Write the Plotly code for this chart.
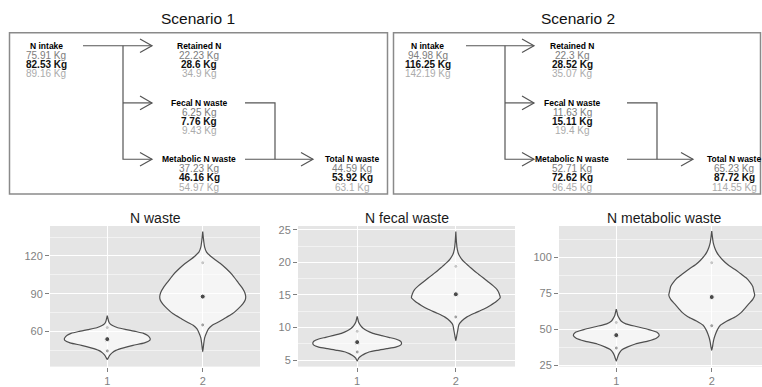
import plotly.graph_objects as go

# ---------------- data ----------------
scenarios = ["Scenario 1", "Scenario 2"]
nodes = ["N intake", "Retained N", "Fecal N waste", "Metabolic N waste", "Total N waste"]
s1_low = [75.91, 22.23, 6.25, 37.23, 44.59]
s1_mean = [82.53, 28.6, 7.76, 46.16, 53.92]
s1_high = [89.16, 34.9, 9.43, 54.97, 63.1]
s2_low = [94.98, 22.3, 11.63, 52.71, 65.23]
s2_mean = [116.25, 28.52, 15.11, 72.62, 87.72]
s2_high = [142.19, 35.07, 19.4, 96.45, 114.55]

panel_titles = ["N waste", "N fecal waste", "N metabolic waste"]
panel_nodes = [4, 2, 3]          # which node each violin panel shows
categories = [1, 2]
cat_labels = ["1", "2"]

# violin outlines: value levels and half-widths
nwaste_s1_y = [37.8, 39, 41, 43, 45, 47, 49, 51, 53, 54, 55, 57, 58.5, 60, 61.5, 63, 64.5, 66, 68, 70, 72.6]
nwaste_s1_w = [0, 0.01, 0.025, 0.05, 0.09, 0.17, 0.27, 0.39, 0.445, 0.45, 0.445, 0.42, 0.38, 0.3, 0.2, 0.11, 0.06, 0.03, 0.015, 0.008, 0]
nwaste_s2_y = [44, 50, 55, 59, 62, 65, 67, 70, 74, 78, 82, 85, 88, 91, 95, 100, 105, 110, 114, 117, 120, 123, 127, 132, 139.4]
nwaste_s2_w = [0, 0.01, 0.02, 0.04, 0.06, 0.1, 0.15, 0.22, 0.31, 0.37, 0.42, 0.445, 0.45, 0.44, 0.41, 0.36, 0.31, 0.245, 0.185, 0.13, 0.08, 0.04, 0.02, 0.01, 0]
fecal_s1_y = [4.85, 5.3, 5.75, 6.0, 6.25, 6.5, 6.75, 7.0, 7.3, 7.6, 7.9, 8.25, 8.5, 8.75, 9.1, 9.5, 9.9, 10.3, 10.8, 11.2, 11.7]
fecal_s1_w = [0, 0.015, 0.05, 0.08, 0.12, 0.2, 0.3, 0.39, 0.44, 0.45, 0.44, 0.39, 0.32, 0.25, 0.16, 0.1, 0.06, 0.035, 0.015, 0.008, 0]
fecal_s2_y = [8.0, 8.8, 9.6, 10.4, 11.0, 11.6, 12.2, 12.8, 13.4, 14.0, 14.6, 15.2, 15.8, 16.4, 17.0, 17.6, 18.2, 18.8, 19.4, 20.0, 20.6, 21.2, 22.0, 23.0, 24.75]
fecal_s2_w = [0, 0.01, 0.02, 0.03, 0.06, 0.11, 0.19, 0.28, 0.35, 0.41, 0.45, 0.44, 0.42, 0.38, 0.33, 0.28, 0.23, 0.18, 0.135, 0.09, 0.055, 0.03, 0.015, 0.007, 0]
metab_s1_y = [28.1, 30, 32, 34, 36, 38, 40, 42, 44, 46, 48, 50, 52, 54, 56, 58, 60, 62, 64.3]
metab_s1_w = [0, 0.01, 0.02, 0.035, 0.06, 0.12, 0.2, 0.33, 0.42, 0.45, 0.43, 0.34, 0.22, 0.1, 0.05, 0.03, 0.015, 0.008, 0]
metab_s2_y = [35.6, 38, 41, 44, 47, 50, 53, 56, 59, 62, 65, 68, 71, 74, 77, 80, 83, 86, 89, 92, 95, 98, 101, 104, 107, 110, 114, 118.5]
metab_s2_w = [0, 0.008, 0.015, 0.025, 0.04, 0.06, 0.09, 0.16, 0.25, 0.31, 0.35, 0.39, 0.43, 0.45, 0.44, 0.43, 0.4, 0.36, 0.3, 0.24, 0.17, 0.12, 0.08, 0.05, 0.03, 0.017, 0.008, 0]

violin_y = [[nwaste_s1_y, nwaste_s2_y], [fecal_s1_y, fecal_s2_y], [metab_s1_y, metab_s2_y]]
violin_w = [[nwaste_s1_w, nwaste_s2_w], [fecal_s1_w, fecal_s2_w], [metab_s1_w, metab_s2_w]]

lows = [s1_low, s2_low]
means = [s1_mean, s2_mean]
highs = [s1_high, s2_high]

# ---------------- layout helpers ----------------
W, H = 762, 387
FONT = "Liberation Sans, Arial, sans-serif"


def px(x):
    return x / W


def py(y):
    return 1 - y / H


shapes = []
annotations = []


def path(points, color="#555555", width=1.2):
    d = "M " + " L ".join(f"{px(x):.5f},{py(y):.5f}" for x, y in points)
    shapes.append(dict(type="path", path=d, xref="paper", yref="paper",
                       line=dict(color=color, width=width), layer="above"))


def chevron(tip_x, y):
    path([(tip_x - 12, y - 7), (tip_x, y), (tip_x - 12, y + 7)])


def text(x, y, s, size, color, bold=False):
    annotations.append(dict(x=px(x), y=py(y), xref="paper", yref="paper",
                            text=f"<b>{s}</b>" if bold else s, showarrow=False,
                            xanchor="center", yanchor="middle", borderpad=0,
                            font=dict(family=FONT, size=size, color=color)))


# diagram geometry (pixels), per scenario
box_x = [(9.5, 387.5), (393.5, 760.5)]
box_y = (31.5, 196.5)
title_cx = [198, 578]
col_intake = [46, 427.5]
col_mid = [199, 572]
col_total = [352, 734]
line_start = [83, 466]
branch_x = [123, 505]
tip1 = [152, 534]
out_start = [245, 627]
elbow_x = [275, 657]
tip2 = [313, 693]
row_y = [44.8, 103.3, 161.0]
line_off = [0, 9.6, 19.0, 28.5]

for s in range(2):
    x0, x1 = box_x[s]
    shapes.append(dict(type="rect", xref="paper", yref="paper",
                       x0=px(x0), x1=px(x1), y0=py(box_y[1]), y1=py(box_y[0]),
                       line=dict(color="#8a8a8a", width=1.5)))
    text(title_cx[s], 17, scenarios[s], 15.5, "#111111")
    pos = [(col_intake[s], row_y[0]), (col_mid[s], row_y[0]), (col_mid[s], row_y[1]),
           (col_mid[s], row_y[2]), (col_total[s], row_y[2])]
    for i, (cx, cy) in enumerate(pos):
        text(cx, cy + line_off[0], nodes[i], 8.5, "#000000", bold=True)
        text(cx, cy + line_off[1], f"{lows[s][i]:g} Kg", 10, "#7c7c7c")
        text(cx, cy + line_off[2], f"{means[s][i]:g} Kg", 10, "#111111", bold=True)
        text(cx, cy + line_off[3], f"{highs[s][i]:g} Kg", 10, "#ababab")
    r0, r1, r2 = row_y
    path([(line_start[s], r0), (tip1[s], r0)])
    chevron(tip1[s], r0)
    path([(branch_x[s], r0), (branch_x[s], r2), (tip1[s], r2)])
    chevron(tip1[s], r2)
    path([(branch_x[s], r1), (tip1[s], r1)])
    chevron(tip1[s], r1)
    path([(out_start[s], r1), (elbow_x[s], r1), (elbow_x[s], r2)])
    path([(out_start[s], r2), (tip2[s], r2)])
    chevron(tip2[s], r2)

# ---------------- violin panels ----------------
panel_x = [(50, 260), (298, 515), (559, 762)]
panel_full_w = [210, 217, 210]
panel_top, panel_bot = 229.3, 373.3
y_ranges = [[32.1, 143.8], [4.0, 25.6], [24.3, 122.0]]
y_dtick = [30, 5, 25]
y_tick0 = [0, 0, 0]

fig = go.Figure()
for p in range(3):
    ax = "" if p == 0 else str(p + 1)
    for s in range(2):
        c = categories[s]
        ys = violin_y[p][s]
        ws = violin_w[p][s]
        xs = [c + w for w in ws] + [c - w for w in ws[::-1]]
        yy = list(ys) + list(ys[::-1])
        fig.add_trace(go.Scatter(x=xs, y=yy, mode="lines", fill="toself",
                                 fillcolor="rgba(255,255,255,0.62)",
                                 line=dict(color="#4f4f4f", width=1.2, shape="spline", smoothing=0.6),
                                 xaxis="x" + ax, yaxis="y" + ax, hoverinfo="skip", showlegend=False))
        node = panel_nodes[p]
        fig.add_trace(go.Scatter(x=[c, c, c],
                                 y=[lows[s][node], means[s][node], highs[s][node]],
                                 mode="markers",
                                 marker=dict(size=[4, 5, 4], color=["#7c7c7c", "#000000", "#b0b0b0"]),
                                 xaxis="x" + ax, yaxis="y" + ax, hoverinfo="skip", showlegend=False))
    x0, x1 = panel_x[p]
    xr_end = 0.4 + 2.2 * (x1 - x0) / panel_full_w[p]
    fig.layout["xaxis" + ax] = dict(
        domain=[px(x0), px(x1)], anchor="y" + ax, range=[0.4, xr_end],
        tickvals=categories, ticktext=cat_labels, showgrid=True, gridcolor="#ffffff", gridwidth=1.1,
        zeroline=False, showline=False, ticks="outside", ticklen=4, tickcolor="#7f7f7f",
        tickfont=dict(family=FONT, size=11, color="#7f7f7f"), fixedrange=True)
    fig.layout["yaxis" + ax] = dict(
        domain=[py(panel_bot), py(panel_top)], anchor="x" + ax, range=y_ranges[p],
        tick0=y_tick0[p], dtick=y_dtick[p], showgrid=True, gridcolor="#ffffff", gridwidth=1.1,
        minor=dict(tick0=y_tick0[p], dtick=y_dtick[p] / 2, showgrid=True, gridcolor="#f2f2f2", gridwidth=0.6),
        zeroline=False, showline=False, ticks="outside", ticklen=4, tickcolor="#7f7f7f",
        tickfont=dict(family=FONT, size=11, color="#7f7f7f"), fixedrange=True)
    cx_full = x0 + panel_full_w[p] / 2
    text(cx_full, 221.5, panel_titles[p], 14, "#1a1a1a")

fig.update_layout(width=W, height=H, margin=dict(l=0, r=0, t=0, b=0),
                  paper_bgcolor="#ffffff", plot_bgcolor="#e5e5e5",
                  shapes=shapes, annotations=annotations, showlegend=False,
                  font=dict(family=FONT))

fig.write_html("out.html", config={"displayModeBar": False},
               post_script="document.body.style.margin='0';document.body.style.overflow='hidden';")
